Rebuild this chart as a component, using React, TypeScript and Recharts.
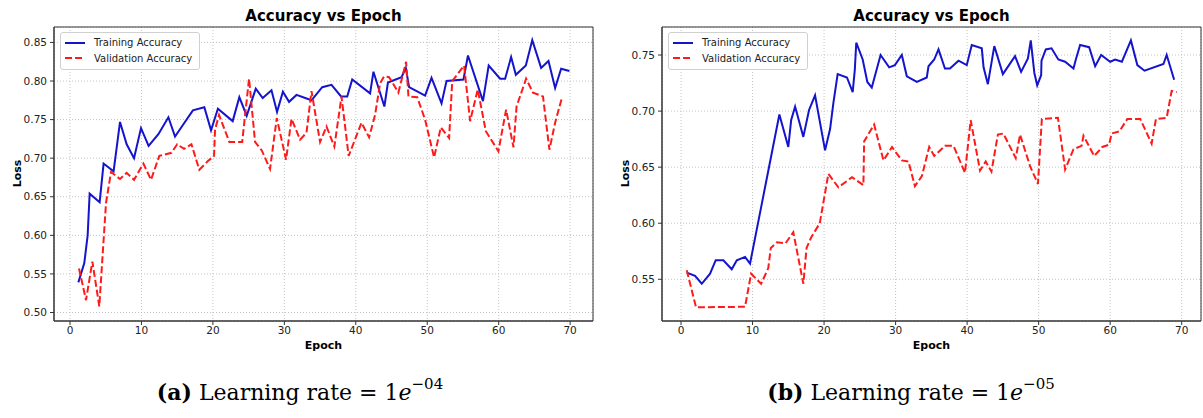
import { LineChart, Line, XAxis, YAxis, CartesianGrid, Legend, ReferenceArea } from "recharts";

// ---- data ----
const epochTicks = [0, 10, 20, 30, 40, 50, 60, 70];
const lossTicksA = [0.5, 0.55, 0.6, 0.65, 0.7, 0.75, 0.8, 0.85];
const lossTicksB = [0.55, 0.6, 0.65, 0.7, 0.75];

// (a) learning rate 1e-04
const trainEpochA = [1.17, 2.0, 2.47, 2.75, 4.15, 4.7, 6.1, 7.0, 7.93, 8.96, 9.94, 11.0, 12.37, 13.77, 14.7, 15.87, 17.2, 18.8, 19.74, 20.7, 22.77, 23.7, 24.73, 26.0, 26.97, 28.2, 28.98, 29.8, 30.66, 31.7, 33.8, 35.3, 36.6, 37.94, 38.8, 39.5, 42.0, 42.47, 44.0, 44.5, 46.4, 47.0, 47.46, 49.7, 50.6, 52.0, 52.7, 55.07, 55.7, 57.8, 58.6, 60.2, 60.9, 61.74, 62.4, 63.8, 64.7, 65.94, 66.97, 67.9, 68.74, 69.9];
const trainAccA = [0.539, 0.564, 0.6, 0.654, 0.643, 0.693, 0.683, 0.747, 0.718, 0.7, 0.739, 0.716, 0.731, 0.753, 0.728, 0.744, 0.762, 0.766, 0.736, 0.764, 0.748, 0.779, 0.755, 0.79, 0.778, 0.788, 0.76, 0.786, 0.773, 0.782, 0.775, 0.792, 0.795, 0.78, 0.78, 0.802, 0.784, 0.812, 0.767, 0.798, 0.805, 0.817, 0.792, 0.781, 0.804, 0.771, 0.8, 0.802, 0.833, 0.774, 0.82, 0.803, 0.803, 0.831, 0.808, 0.82, 0.853, 0.817, 0.826, 0.791, 0.816, 0.813];
const valEpochA = [1.26, 2.24, 3.13, 4.1, 5.04, 5.74, 7.0, 7.93, 8.96, 10.27, 11.34, 12.5, 14.2, 15.0, 15.96, 17.0, 18.1, 19.27, 20.16, 20.3, 20.86, 22.3, 24.1, 25.06, 25.9, 26.84, 28.0, 28.94, 30.24, 31.0, 32.2, 33.1, 33.8, 35.0, 35.9, 37.0, 38.0, 39.0, 40.8, 41.86, 42.7, 43.4, 43.96, 44.66, 45.96, 47.04, 47.37, 48.6, 49.7, 50.96, 51.9, 53.06, 53.5, 55.16, 56.0, 57.07, 58.2, 59.96, 61.04, 62.07, 62.5, 63.84, 64.8, 66.2, 67.1, 67.9, 68.9];
const valAccA = [0.557, 0.516, 0.566, 0.508, 0.642, 0.682, 0.673, 0.681, 0.672, 0.693, 0.672, 0.703, 0.707, 0.718, 0.712, 0.718, 0.685, 0.696, 0.703, 0.737, 0.756, 0.721, 0.721, 0.803, 0.721, 0.71, 0.686, 0.752, 0.698, 0.751, 0.724, 0.733, 0.787, 0.721, 0.741, 0.715, 0.78, 0.703, 0.746, 0.727, 0.756, 0.797, 0.806, 0.805, 0.785, 0.825, 0.78, 0.779, 0.75, 0.701, 0.74, 0.726, 0.8, 0.82, 0.748, 0.789, 0.735, 0.709, 0.763, 0.714, 0.767, 0.803, 0.785, 0.78, 0.711, 0.746, 0.78];

// (b) learning rate 1e-05
const trainEpochB = [0.8, 1.96, 2.9, 4.06, 4.85, 5.92, 7.09, 7.8, 8.95, 9.65, 13.75, 15.0, 15.4, 15.95, 17.1, 17.9, 18.74, 20.14, 20.84, 21.3, 21.9, 23.2, 24.0, 24.3, 24.5, 25.4, 26.05, 26.67, 27.9, 29.1, 29.9, 30.87, 31.57, 32.97, 34.36, 34.6, 35.4, 36.0, 36.9, 37.6, 38.8, 39.95, 40.65, 42.05, 42.3, 42.9, 43.8, 45.0, 46.7, 47.55, 48.5, 48.9, 49.4, 49.8, 50.35, 50.4, 51.0, 51.8, 52.75, 53.7, 54.87, 55.2, 55.8, 57.06, 57.9, 58.74, 60.0, 60.7, 61.64, 62.9, 63.8, 64.8, 67.45, 67.9, 68.95];
const trainAccB = [0.556, 0.553, 0.546, 0.555, 0.567, 0.567, 0.559, 0.567, 0.57, 0.564, 0.697, 0.668, 0.692, 0.704, 0.677, 0.701, 0.714, 0.665, 0.684, 0.707, 0.733, 0.73, 0.717, 0.737, 0.761, 0.746, 0.726, 0.721, 0.75, 0.739, 0.741, 0.75, 0.731, 0.726, 0.73, 0.74, 0.746, 0.755, 0.738, 0.738, 0.745, 0.741, 0.759, 0.756, 0.739, 0.724, 0.758, 0.733, 0.749, 0.735, 0.747, 0.763, 0.734, 0.723, 0.732, 0.745, 0.755, 0.756, 0.746, 0.744, 0.738, 0.746, 0.759, 0.757, 0.74, 0.75, 0.744, 0.746, 0.744, 0.763, 0.741, 0.736, 0.742, 0.75, 0.728];
const valEpochB = [0.8, 2.1, 8.95, 9.8, 11.2, 12.2, 12.55, 13.4, 14.6, 15.7, 17.1, 17.55, 18.25, 19.4, 20.6, 22.0, 23.9, 25.5, 25.6, 27.0, 28.3, 29.5, 30.87, 31.8, 32.7, 33.67, 34.7, 35.4, 36.9, 38.1, 39.7, 40.5, 41.8, 42.6, 43.4, 44.3, 45.07, 46.8, 47.4, 48.8, 49.9, 50.45, 52.7, 53.7, 54.87, 56.0, 56.27, 57.77, 58.9, 59.85, 60.2, 61.3, 62.4, 64.2, 65.8, 66.4, 67.9, 68.6, 69.3];
const valAccB = [0.558, 0.525, 0.5255, 0.555, 0.546, 0.56, 0.578, 0.583, 0.582, 0.592, 0.546, 0.578, 0.588, 0.6, 0.644, 0.632, 0.641, 0.634, 0.673, 0.688, 0.656, 0.668, 0.656, 0.655, 0.633, 0.642, 0.668, 0.66, 0.669, 0.669, 0.645, 0.692, 0.647, 0.655, 0.646, 0.679, 0.68, 0.658, 0.679, 0.651, 0.635, 0.693, 0.694, 0.648, 0.666, 0.669, 0.678, 0.66, 0.668, 0.67, 0.68, 0.682, 0.693, 0.693, 0.671, 0.693, 0.694, 0.718, 0.717];

const BLUE = "#1414cc";
const RED = "#ff1a1a";
const FONT = "'DejaVu Sans', sans-serif";

const zip = (xs: number[], ys: number[]) => xs.map((x, i) => ({ epoch: x, acc: ys[i] }));

const W = 600;
const H = 360;

function LegendBox({ payload }: any) {
  return (
    <div style={{
      border: "1px solid #d0d0d0", borderRadius: 3, background: "rgba(255,255,255,0.85)",
      padding: "2px 7px 3px 3px", fontFamily: FONT, fontSize: 10, color: "#222", lineHeight: "15.5px",
    }}>
      {(payload || []).map((p: any) => (
        <div key={p.value} style={{ display: "flex", alignItems: "center", whiteSpace: "nowrap" }}>
          <svg width={22} height={8} style={{ marginRight: 8 }}>
            <line x1={1} y1={4} x2={21} y2={4} stroke={p.color} strokeWidth={2}
              strokeDasharray={p.payload?.strokeDasharray} />
          </svg>
          {p.value}
        </div>
      ))}
    </div>
  );
}

function Panel({ left, train, val, yTicks, yDomain, xDomain }: any) {
  const plotLeft = 54;
  const plotRight = W - 7;
  const cx = left + (plotLeft + plotRight) / 2;
  return (
    <>
      <div style={{ position: "absolute", left: left, top: 0 }}>
        <LineChart width={W} height={H} margin={{ top: 27, right: 7, bottom: 14, left: 10 }}>
          <CartesianGrid stroke="#c4c4c4" strokeDasharray="1 2" />
          <XAxis dataKey="epoch" type="number" domain={xDomain} ticks={epochTicks} allowDataOverflow
            height={25} tickSize={4} tickMargin={2} stroke="#333"
            tick={{ fill: "#222", fontSize: 10.5, fontFamily: FONT }} />
          <YAxis type="number" domain={yDomain} ticks={yTicks} allowDataOverflow width={44}
            tickSize={4} tickMargin={3} stroke="#333" tickFormatter={(v: number) => v.toFixed(2)}
            tick={{ fill: "#222", fontSize: 10.5, fontFamily: FONT }} />
          <ReferenceArea x1={xDomain[0]} x2={xDomain[1]} y1={yDomain[0]} y2={yDomain[1]}
            fill="none" fillOpacity={0} stroke="#333" strokeOpacity={1} strokeWidth={1} ifOverflow="visible" />
          <Legend verticalAlign="middle" align="center" layout="horizontal"
            wrapperStyle={{ left: 60, top: 32, width: "auto" }} content={LegendBox} />
          <Line data={train} dataKey="acc" name="Training Accuracy" type="linear" stroke={BLUE}
            strokeWidth={2} dot={false} isAnimationActive={false} />
          <Line data={val} dataKey="acc" name="Validation Accuracy" type="linear" stroke={RED}
            strokeWidth={2} strokeDasharray="7 3" dot={false} isAnimationActive={false} />
        </LineChart>
      </div>
      <div style={{ position: "absolute", left: cx - 150, width: 300, top: 7, textAlign: "center",
        fontFamily: FONT, fontWeight: "bold", fontSize: 15, color: "#000" }}>
        Accuracy vs Epoch
      </div>
      <div style={{ position: "absolute", left: cx - 50, width: 100, top: 339, textAlign: "center",
        fontFamily: FONT, fontWeight: "bold", fontSize: 11, color: "#000" }}>
        Epoch
      </div>
      <div style={{ position: "absolute", left: left + 17 - 30, width: 60, top: 167, textAlign: "center",
        transform: "rotate(-90deg)", fontFamily: FONT, fontWeight: "bold", fontSize: 11, color: "#000" }}>
        Loss
      </div>
    </>
  );
}

function Caption({ cx, tag, exp }: { cx: number; tag: string; exp: string }) {
  return (
    <div style={{ position: "absolute", left: cx - 200, width: 400, top: 378, textAlign: "center",
      fontFamily: "'DejaVu Serif', serif", fontSize: 22, color: "#000", whiteSpace: "nowrap",
      fontWeight: 300 }}>
      <b style={{ fontWeight: 700 }}>({tag})</b> Learning rate = 1<i>e</i>
      <sup style={{ fontSize: 15, position: "relative", top: -3 }}>{exp}</sup>
    </div>
  );
}

export default function App() {
  return (
    <div style={{ position: "relative", width: 1203, height: 418, background: "#fff", overflow: "hidden" }}>
      <style>{`body{margin:0}`}</style>
      <Panel left={0} train={zip(trainEpochA, trainAccA)} val={zip(valEpochA, valAccA)}
        yTicks={lossTicksA} yDomain={[0.489, 0.87]} xDomain={[-2.24, 73.2]} />
      <Panel left={608} train={zip(trainEpochB, trainAccB)} val={zip(valEpochB, valAccB)}
        yTicks={lossTicksB} yDomain={[0.5128, 0.775]} xDomain={[-2.66, 72.7]} />
      <Caption cx={300} tag="a" exp="−04" />
      <Caption cx={911} tag="b" exp="−05" />
    </div>
  );
}
